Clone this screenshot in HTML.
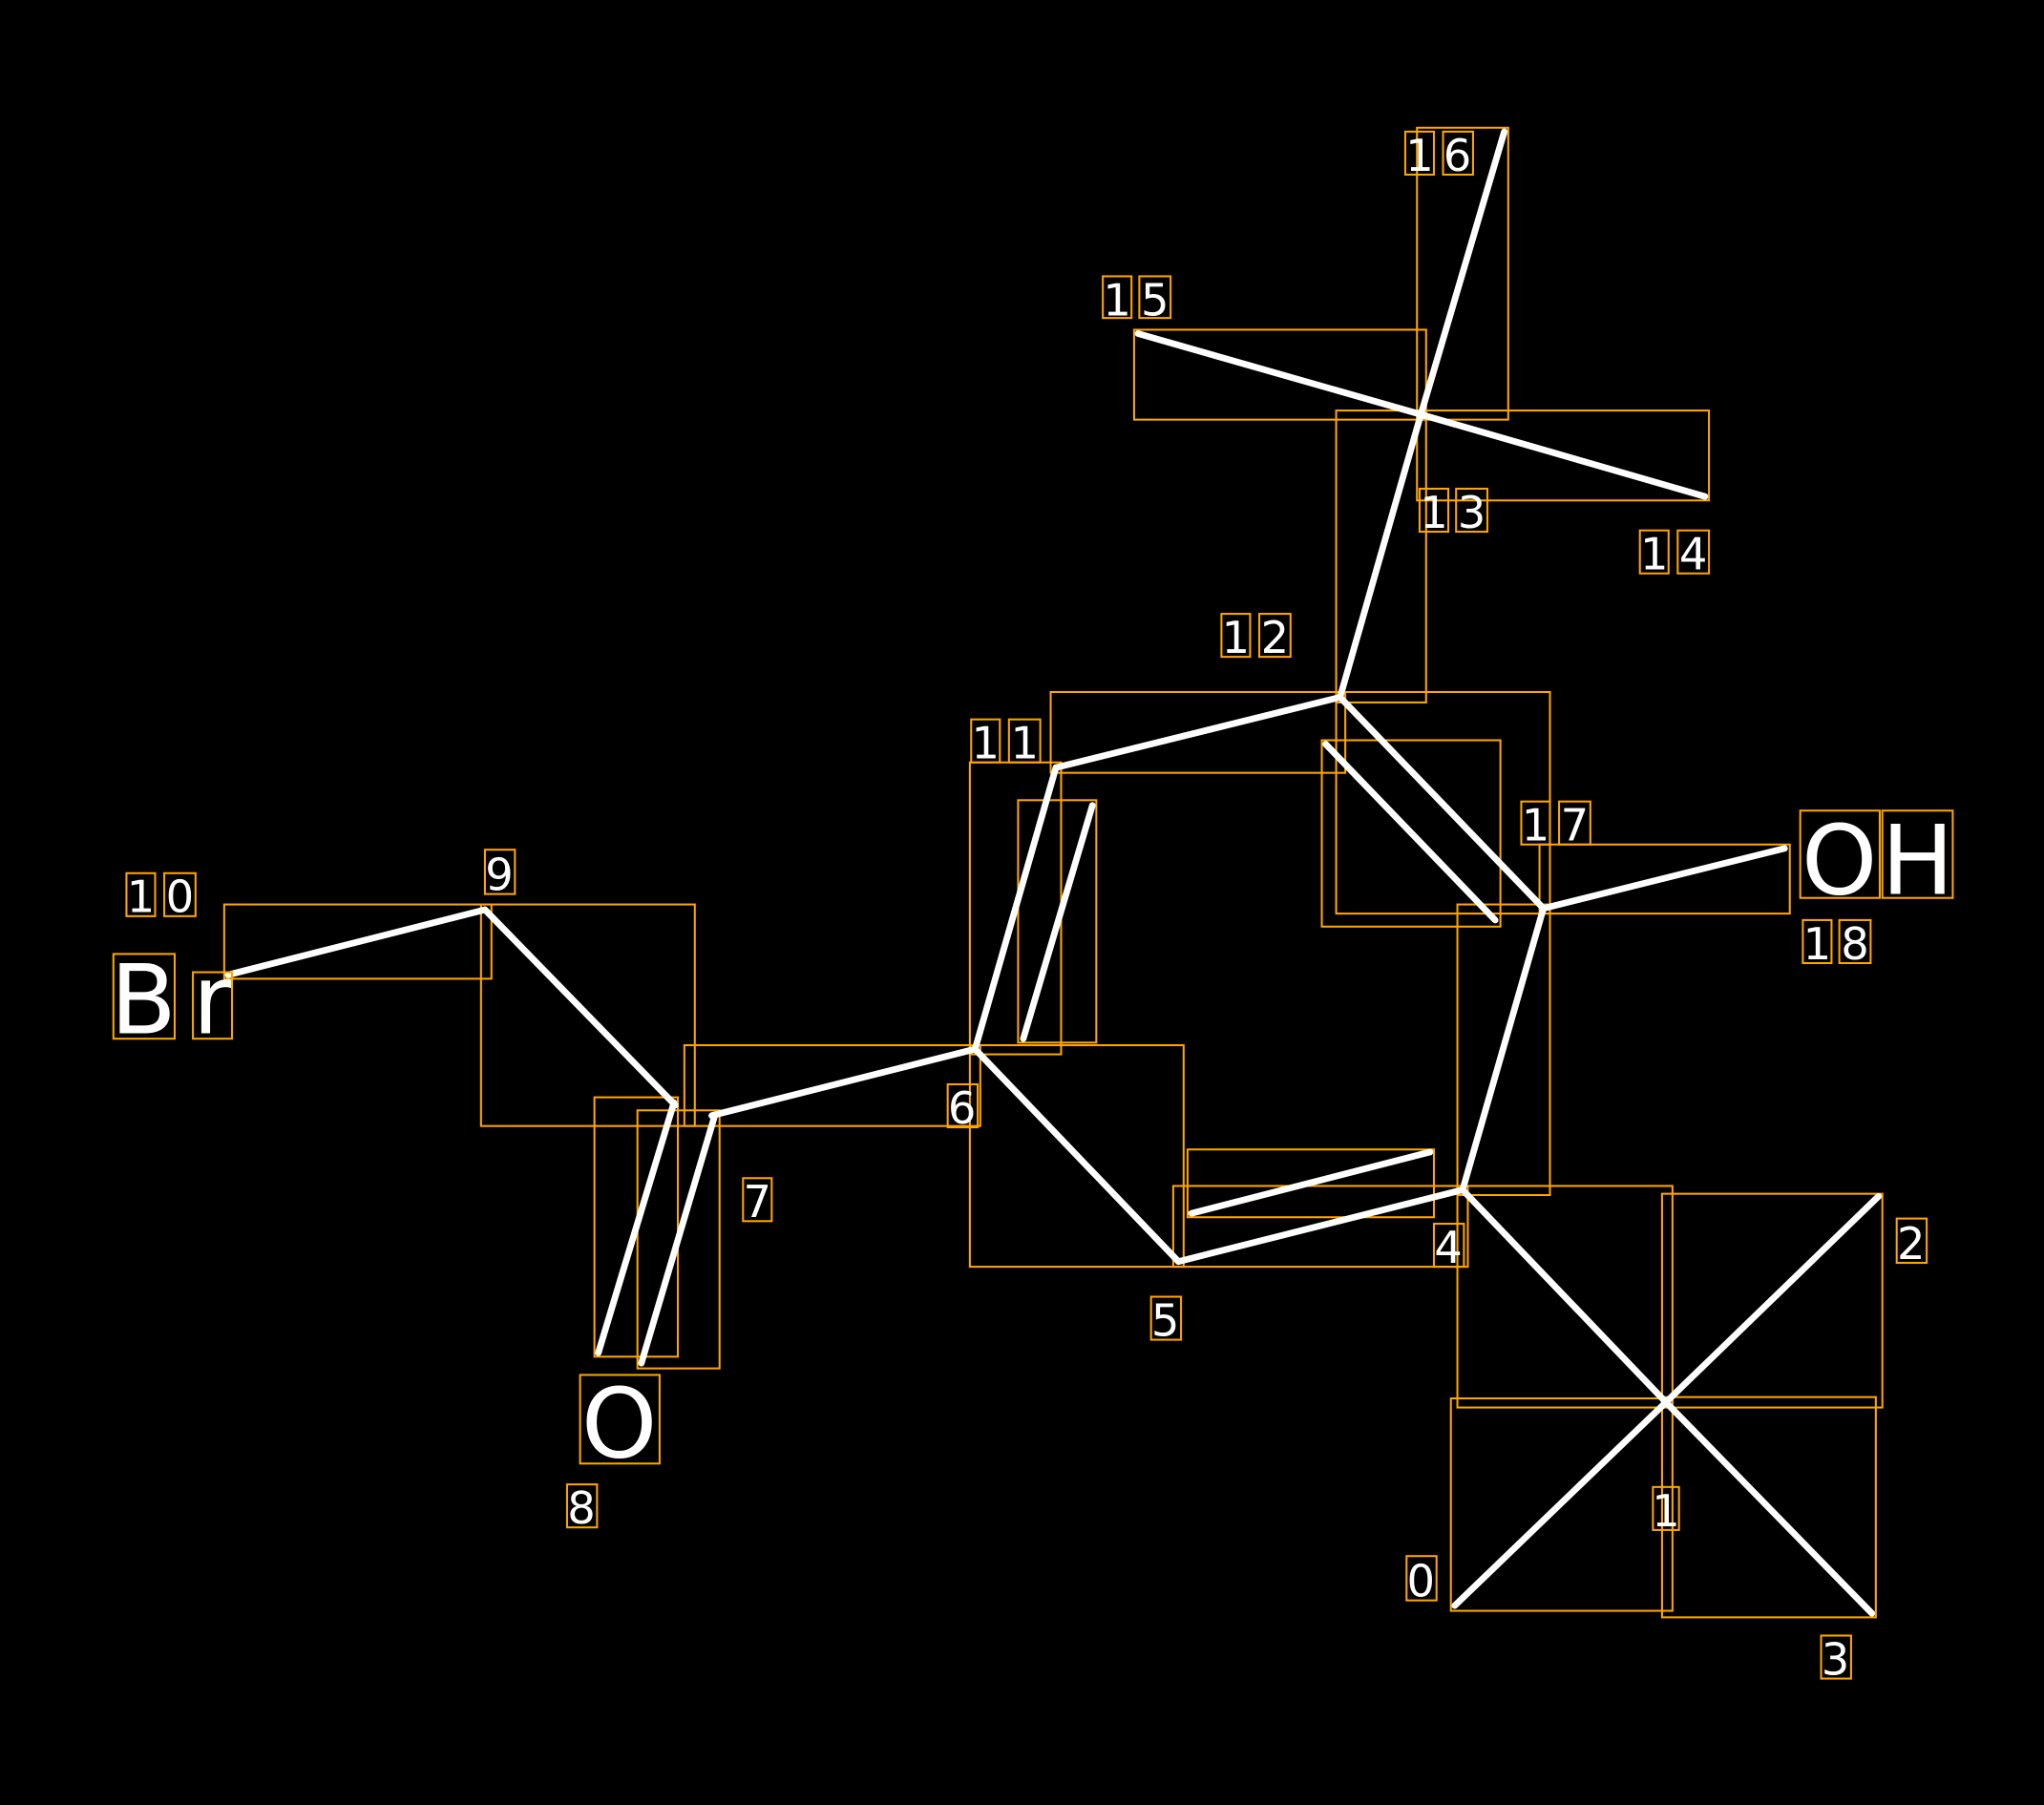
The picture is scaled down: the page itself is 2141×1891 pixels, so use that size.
<!DOCTYPE html>
<html><head><meta charset="utf-8"><style>html,body{margin:0;padding:0;background:#000}svg{display:block}</style></head><body>
<svg width="2141" height="1891" viewBox="0 0 1568 1385" preserveAspectRatio="none" xmlns="http://www.w3.org/2000/svg">
<rect width="1568" height="1385" fill="#000"/>
<g fill="none" stroke="#FFA500" stroke-width="1.5">
<rect x="1113" y="1073" width="170" height="163"/>
<rect x="1275" y="916" width="169" height="164"/>
<rect x="1275" y="1072" width="164" height="169"/>
<rect x="1118" y="910" width="165" height="170"/>
<rect x="900" y="910" width="226" height="62"/>
<rect x="911" y="882" width="189" height="52"/>
<rect x="744" y="802" width="164" height="170"/>
<rect x="525" y="802" width="227" height="62"/>
<rect x="369" y="694" width="164" height="170"/>
<rect x="172" y="694" width="205" height="57"/>
<rect x="456" y="842" width="64" height="199"/>
<rect x="489" y="852" width="63" height="198"/>
<rect x="744" y="585" width="70" height="224"/>
<rect x="781" y="614" width="60" height="186"/>
<rect x="806" y="531" width="226" height="62"/>
<rect x="1025" y="315" width="69" height="224"/>
<rect x="1087" y="315" width="224" height="69"/>
<rect x="870" y="253" width="224" height="69"/>
<rect x="1087" y="98" width="70" height="224"/>
<rect x="1025" y="531" width="164" height="170"/>
<rect x="1014" y="568" width="137" height="143"/>
<rect x="1118" y="694" width="71" height="223"/>
<rect x="1181" y="648" width="192" height="53"/>
</g>
<g stroke="#fff" stroke-width="5" stroke-linecap="round">
<line x1="1116" y1="1232" x2="1278" y2="1076"/>
<line x1="1278" y1="1076" x2="1441" y2="918"/>
<line x1="1278" y1="1076" x2="1436" y2="1238"/>
<line x1="1278" y1="1076" x2="1122" y2="913"/>
<line x1="904" y1="968" x2="1122" y2="913"/>
<line x1="914" y1="931" x2="1097" y2="884"/>
<line x1="904" y1="968" x2="748" y2="805"/>
<line x1="748" y1="805" x2="546" y2="856"/>
<line x1="518" y1="848" x2="372" y2="698"/>
<line x1="372" y1="698" x2="175" y2="748"/>
<line x1="517" y1="846" x2="459" y2="1038"/>
<line x1="548" y1="857" x2="492" y2="1046"/>
<line x1="748" y1="805" x2="810" y2="589"/>
<line x1="785" y1="797" x2="838" y2="618"/>
<line x1="810" y1="589" x2="1028" y2="535"/>
<line x1="1028" y1="535" x2="1090" y2="318"/>
<line x1="1090" y1="318" x2="1308" y2="381"/>
<line x1="1090" y1="318" x2="873" y2="256"/>
<line x1="1090" y1="318" x2="1154" y2="101"/>
<line x1="1028" y1="535" x2="1184" y2="697"/>
<line x1="1017" y1="571" x2="1147" y2="706"/>
<line x1="1184" y1="697" x2="1369" y2="651"/>
<line x1="1184" y1="697" x2="1122" y2="913"/>
</g>
<g fill="#fff" font-family="DejaVu Sans, Liberation Sans, sans-serif" text-anchor="middle" stroke="none">
<g font-size="34">
<text x="1089" y="131">1</text><text x="1118" y="131">6</text>
<text x="857" y="242">1</text><text x="886" y="242">5</text>
<text x="1100" y="405">1</text><text x="1129" y="405">3</text>
<text x="1269" y="437">1</text><text x="1299" y="437">4</text>
<text x="948" y="501">1</text><text x="978" y="501">2</text>
<text x="756" y="582">1</text><text x="786" y="582">1</text>
<text x="1178" y="645">1</text><text x="1208" y="645">7</text>
<text x="1394" y="736">1</text><text x="1423" y="736">8</text>
<text x="383" y="683">9</text>
<text x="108" y="700">1</text><text x="138" y="700">0</text>
<text x="446" y="1169">8</text>
<text x="581" y="934">7</text>
<text x="738" y="862">6</text>
<text x="894" y="1025">5</text>
<text x="1111" y="969">4</text>
<text x="1466" y="966">2</text>
<text x="1278" y="1171">1</text>
<text x="1090" y="1225">0</text>
<text x="1408" y="1285">3</text>
</g>
<g font-size="74">
<text x="110" y="793">B</text><text x="163" y="793">r</text>
<text x="1411" y="686">O</text><text x="1471" y="686">H</text>
<text x="475" y="1118">O</text>
</g>
</g>
<g fill="none" stroke="#FFA500" stroke-width="1.5">
<rect x="1078" y="101" width="22" height="33"/><rect x="1107" y="101" width="23" height="33"/>
<rect x="846" y="212" width="22" height="32"/><rect x="874" y="212" width="24" height="32"/>
<rect x="1089" y="375" width="22" height="33"/><rect x="1117" y="375" width="24" height="33"/>
<rect x="1258" y="407" width="22" height="33"/><rect x="1287" y="407" width="24" height="33"/>
<rect x="937" y="471" width="22" height="33"/><rect x="966" y="471" width="24" height="33"/>
<rect x="745" y="552" width="22" height="33"/><rect x="774" y="552" width="24" height="33"/>
<rect x="1167" y="615" width="22" height="33"/><rect x="1196" y="615" width="24" height="33"/>
<rect x="1383" y="706" width="22" height="33"/><rect x="1411" y="706" width="24" height="33"/>
<rect x="372" y="652" width="23" height="34"/>
<rect x="97" y="670" width="22" height="33"/><rect x="126" y="670" width="24" height="33"/>
<rect x="87" y="732" width="47" height="65"/><rect x="148" y="746" width="30" height="51"/>
<rect x="1381" y="622" width="61" height="67"/><rect x="1444" y="622" width="54" height="67"/>
<rect x="445" y="1055" width="61" height="68"/>
<rect x="435" y="1139" width="23" height="33"/>
<rect x="570" y="904" width="22" height="33"/>
<rect x="727" y="832" width="23" height="33"/>
<rect x="883" y="995" width="23" height="33"/>
<rect x="1100" y="939" width="23" height="33"/>
<rect x="1455" y="935" width="23" height="34"/>
<rect x="1268" y="1141" width="20" height="33"/>
<rect x="1079" y="1194" width="23" height="34"/>
<rect x="1397" y="1255" width="23" height="33"/>
</g>
</svg>
</body></html>
